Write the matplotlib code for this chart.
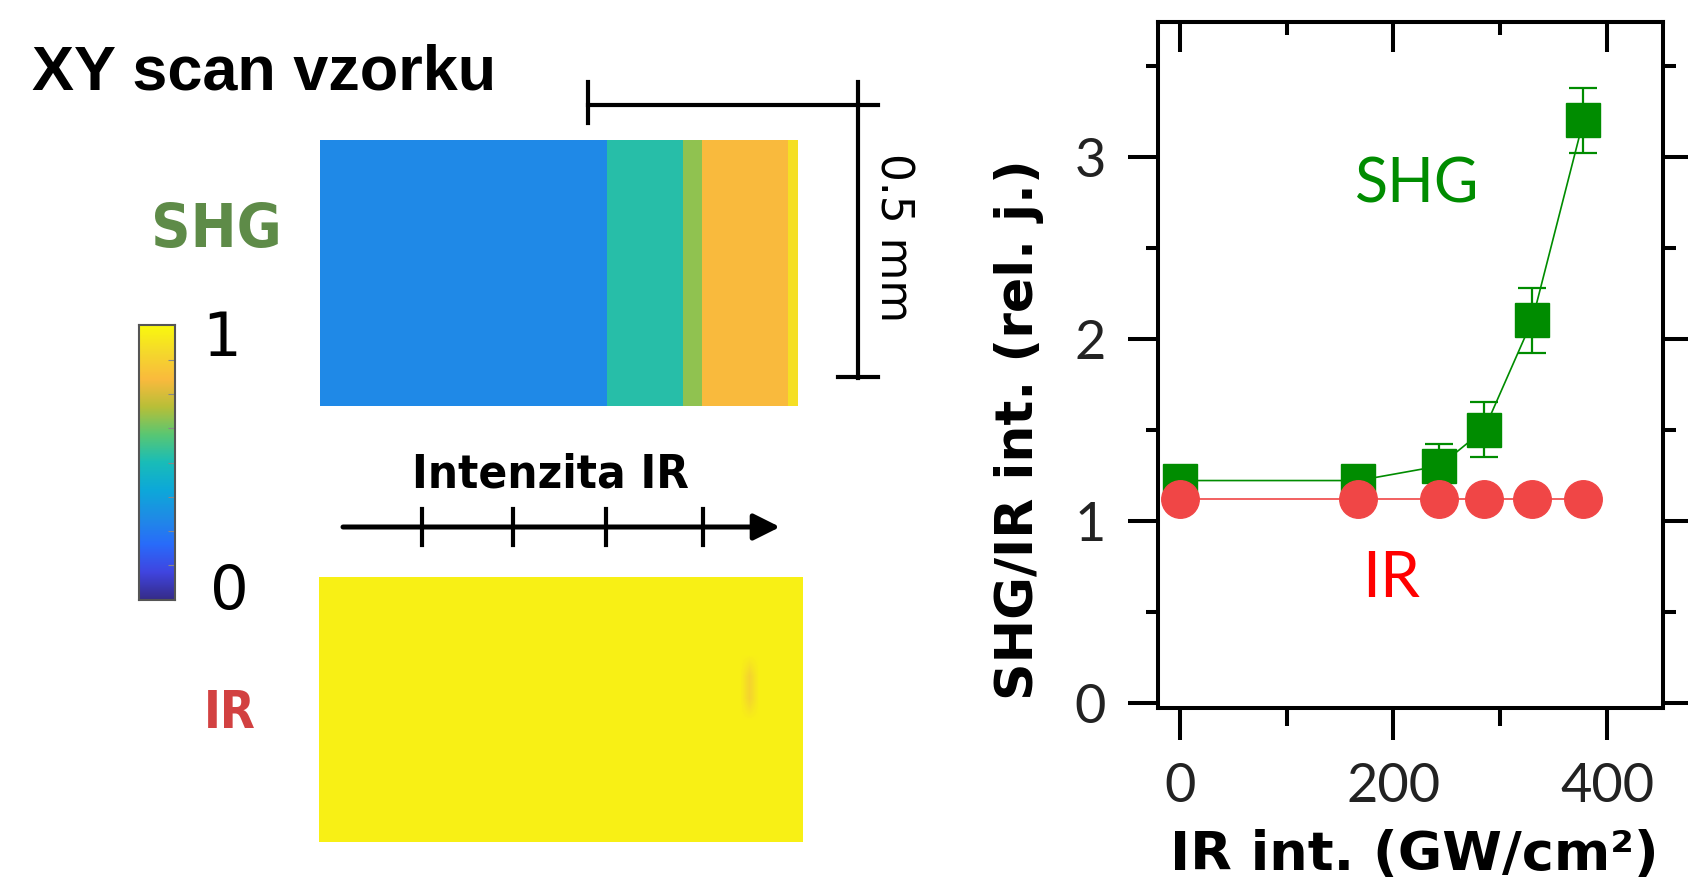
"""
SHG map of the sample (left) and SHG / IR signal versus IR intensity (right).
"""
import matplotlib
matplotlib.use("Agg")
import matplotlib.pyplot as plt
import numpy as np
from matplotlib import font_manager
from matplotlib.font_manager import FontProperties
from matplotlib.colors import LinearSegmentedColormap

# ---- data ----
ir_intensity = [0, 167, 243, 285, 330, 378]          # GW/cm^2
shg_ratio = [1.22, 1.22, 1.30, 1.50, 2.10, 3.20]
shg_err = [0.04, 0.04, 0.12, 0.15, 0.18, 0.18]
ir_ratio = [1.12, 1.12, 1.12, 1.12, 1.12, 1.12]

x_major = [0, 200, 400]
x_minor = [100, 300]
y_major = [0, 1, 2, 3]
y_minor = [0.5, 1.5, 2.5, 3.5]

# SHG map: vertical bands from left to right (column count, normalised value)
shg_band_cols = [30, 8, 2, 9, 1]
shg_band_vals = [0.29, 0.52, 0.66, 0.80, 0.92]
# IR map: flat, with one small faint streak (row, column, value)
ir_level = 0.97
ir_spot = (4, 44, 0.88)

# parula-like colour map (anchor colours)
parula_pos = [0.0, 0.1, 0.2, 0.3, 0.4, 0.5, 0.6, 0.7, 0.8, 0.9, 1.0]
parula_rgb = [(0.21, 0.17, 0.53), (0.25, 0.27, 0.88), (0.16, 0.42, 0.98),
              (0.12, 0.55, 0.90), (0.05, 0.66, 0.85), (0.10, 0.74, 0.72),
              (0.35, 0.78, 0.45), (0.72, 0.75, 0.22), (0.98, 0.73, 0.24),
              (0.96, 0.85, 0.17), (0.98, 0.98, 0.05)]

W, H = 1688, 892


def has_font(name):
    try:
        font_manager.findfont(name, fallback_to_default=False)
        return True
    except Exception:
        return False


def condensed_bold():
    # look for an installed narrow / condensed bold face, plain bold otherwise
    for f in font_manager.fontManager.ttflist:
        name = f.name.lower()
        narrowish = ("narrow" in name or "condensed" in name
                     or str(f.stretch) in ("condensed", "semi-condensed", "extra-condensed"))
        weight = f.weight if isinstance(f.weight, int) else (700 if "bold" in str(f.weight) else 400)
        if narrowish and weight >= 600 and f.style == "normal":
            return FontProperties(fname=f.fname)
    return FontProperties(family="Liberation Sans", weight="bold")


tick_font = "Lato" if has_font("Lato") else "DejaVu Sans"
label_fp = condensed_bold()


def fx(px):
    return px / W


def fy(py):
    return 1 - py / H


fig = plt.figure(figsize=(W / 100, H / 100), dpi=100)
renderer = fig.canvas.get_renderer()
cmap = LinearSegmentedColormap.from_list("parula", list(zip(parula_pos, parula_rgb)))


def fit(t, target, along="width"):
    # rescale the font so the text spans the measured number of pixels
    box = t.get_window_extent(renderer)
    size = box.width if along == "width" else box.height
    t.set_fontsize(t.get_fontsize() * target / size)


# ---- left panel: maps ----
shg_row = np.repeat(shg_band_vals, shg_band_cols)
shg_map = np.tile(shg_row, (12, 1))
ir_map = np.full((12, 50), ir_level)
ir_map[ir_spot[0]:ir_spot[0] + 2, ir_spot[1]] = ir_spot[2]

ax_shg = fig.add_axes([fx(320), fy(406), fx(798 - 320), (406 - 140) / H])
ax_shg.imshow(shg_map, cmap=cmap, vmin=0, vmax=1, aspect="auto", interpolation="nearest")
ax_shg.axis("off")

ax_ir = fig.add_axes([fx(319), fy(842), fx(803 - 319), (842 - 577) / H])
ax_ir.imshow(ir_map, cmap=cmap, vmin=0, vmax=1, aspect="auto", interpolation="bilinear")
ax_ir.axis("off")

# colour bar
ax_cb = fig.add_axes([fx(139), fy(600), fx(36), 275 / H])
ax_cb.imshow(np.linspace(0, 1, 256)[:, None], cmap=cmap, aspect="auto", origin="lower")
ax_cb.set_xticks([])
ax_cb.set_yticks(np.linspace(0, 255, 9)[1:-1])
ax_cb.tick_params(axis="y", direction="in", length=5, color="#888888", labelleft=False,
                  left=False, right=True)
for sp in ax_cb.spines.values():
    sp.set_color("#555555")
    sp.set_linewidth(1.5)

# overlay for scale bar, arrow and labels (pixel coordinates of the figure)
ov = fig.add_axes([0, 0, 1, 1], zorder=-1)
ov.set_xlim(0, W)
ov.set_ylim(H, 0)
ov.axis("off")

lw_bar = 3.0
ov.plot([588, 878], [105, 105], color="black", lw=lw_bar)
ov.plot([588, 588], [82, 123], color="black", lw=lw_bar)
ov.plot([858, 858], [82, 378], color="black", lw=lw_bar)
ov.plot([838, 878], [377, 377], color="black", lw=lw_bar)
t = ov.text(893, 238, "0.5 mm", rotation=270, ha="center", va="center",
            fontsize=27, family="DejaVu Sans")
fit(t, 168, along="height")

ov.annotate("", xy=(780, 527), xytext=(343, 527),
            arrowprops=dict(arrowstyle="-|>", lw=3.6, color="black",
                            mutation_scale=40, shrinkA=0, shrinkB=0))
for tx in [422, 513, 606, 703]:
    ov.plot([tx, tx], [509, 545], color="black", lw=3.0)

t = ov.text(32, 90, "XY scan vzorku", ha="left", va="baseline", fontsize=45,
            fontweight="bold", family="Liberation Sans")
fit(t, 465)
t = ov.text(550, 487, "Intenzita IR", ha="center", va="baseline", fontsize=45,
            fontproperties=label_fp)
fit(t, 277)
t = ov.text(216, 247, "SHG", ha="center", va="baseline", fontsize=50,
            fontproperties=label_fp, color="#5e8b48")
fit(t, 131)
t = ov.text(230, 728, "IR", ha="center", va="baseline", fontsize=46,
            fontproperties=label_fp, color="#d24141")
fit(t, 52)
ov.text(222, 340, "1", ha="center", va="center", fontsize=44, family="DejaVu Sans")
ov.text(229, 592, "0", ha="center", va="center", fontsize=44, family="DejaVu Sans")

# ---- right panel: ratio vs IR intensity ----
ax = fig.add_axes([fx(1158), fy(708), fx(1663 - 1158), (708 - 22) / H])
green = "#008c00"
red = "#f04646"

ax.errorbar(ir_intensity, shg_ratio, yerr=shg_err, fmt="s-", color=green,
            ms=24, lw=1.2, elinewidth=1.6, capsize=10, capthick=1.6, zorder=3)
ax.plot(ir_intensity, ir_ratio, "o-", color=red, ms=27, lw=1.2, zorder=4)

ax.text(222, 2.75, "SHG", ha="center", va="baseline", fontsize=44,
        family=tick_font, color=green)
ax.text(198, 0.58, "IR", ha="center", va="baseline", fontsize=46,
        family=tick_font, color="red")

ax.set_xlim(-20.6, 452.5)
ax.set_ylim(-0.03, 3.74)
ax.set_xticks(x_major)
ax.set_xticks(x_minor, minor=True)
ax.set_yticks(y_major)
ax.set_yticks(y_minor, minor=True)
ax.set_xticklabels([str(v) for v in x_major], family=tick_font, fontsize=39, color="#222222")
ax.set_yticklabels([str(v) for v in y_major], family=tick_font, fontsize=39, color="#222222")

for sp in ax.spines.values():
    sp.set_linewidth(2.9)
ax.tick_params(axis="y", which="both", direction="out", left=True, right=True,
               width=2.9, pad=16)
ax.tick_params(axis="y", which="major", length=21.6)
ax.tick_params(axis="y", which="minor", length=9)
ax.tick_params(axis="x", which="both", direction="out", bottom=True, top=False,
               width=2.9, pad=16)
ax.tick_params(axis="x", which="major", length=23)
ax.tick_params(axis="x", which="minor", length=13)

# top axis: ticks point inwards, no labels
top = ax.secondary_xaxis("top")
top.set_xticks(x_major)
top.set_xticks(x_minor, minor=True)
top.tick_params(which="both", direction="in", width=2.9, labeltop=False)
top.tick_params(which="major", length=21.6)
top.tick_params(which="minor", length=9)
top.spines["top"].set_linewidth(2.9)

fig.text(fx(1414), fy(855), "IR int. (GW/cm\u00b2)", ha="center", va="center",
         fontsize=39, fontweight="bold", family="DejaVu Sans")
fig.text(fx(1019), fy(430), "SHG/IR int. (rel. j.)", ha="center", va="center",
         rotation=90, fontsize=37.5, fontweight="bold", family="DejaVu Sans")

fig.savefig("out.png", dpi=100)
